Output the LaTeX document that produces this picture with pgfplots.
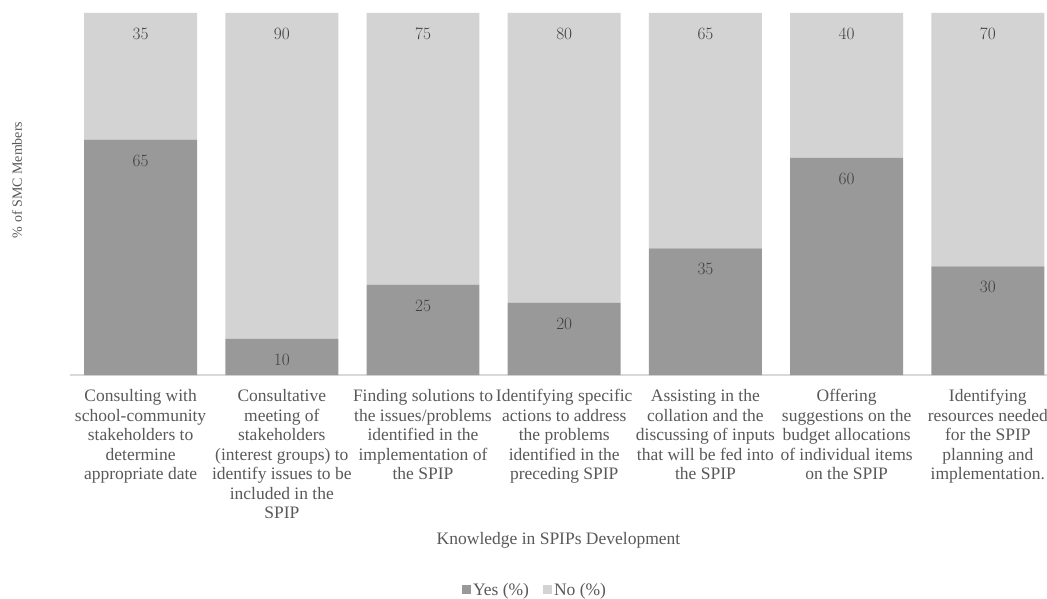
\documentclass[border=0pt]{standalone}
\usepackage{pgfplots}
\pgfplotsset{compat=1.18}
\usepackage{fontspec}
\setmainfont{Liberation Serif}
\definecolor{yesgray}{RGB}{153,153,153}
\definecolor{nogray}{RGB}{211,211,211}
\definecolor{txtgray}{RGB}{89,89,89}
\definecolor{lblgray}{RGB}{64,64,64}
\definecolor{axgray}{RGB}{217,217,217}
\begin{document}
\begin{tikzpicture}
\begin{axis}[
  at={(70pt,223pt)}, anchor=south west,
  scale only axis,
  width=977pt, height=362pt,
  ybar stacked,
  bar width=0.8,
  xmin=-0.5, xmax=6.419,
  ymin=0, ymax=100,
  axis lines*=left,
  x axis line style={draw=axgray, line width=1.5pt},
  y axis line style={draw=none},
  ytick=\empty,
  xtick={0,...,6},
  major tick length=0pt,
  xticklabels={
    {Consulting with\\school-community\\stakeholders to\\determine\\appropriate date},
    {Consultative\\meeting of\\stakeholders\\(interest groups) to\\identify issues to be\\included in the\\SPIP},
    {Finding solutions to\\the issues/problems\\identified in the\\implementation of\\the SPIP},
    {Identifying specific\\actions to address\\the problems\\identified in the\\preceding SPIP},
    {Assisting in the\\collation and the\\discussing of inputs\\that will be fed into\\the SPIP},
    {Offering\\suggestions on the\\budget allocations\\of individual items\\on the SPIP},
    {Identifying\\resources needed\\for the SPIP\\planning and\\implementation.}},
  xticklabel style={font=\fontsize{17.5}{19.5}\selectfont, text=txtgray,
    align=center, anchor=north, yshift=-11pt},
  xlabel={Knowledge in SPIPs Development},
  xlabel style={at={(axis description cs:0.5,-0.456)}, anchor=center,
    font=\fontsize{17.5}{20}\selectfont, text=txtgray},
  ylabel={\% of SMC Members},
  ylabel style={at={(axis description cs:-0.0542,0.539)}, anchor=center,
    font=\fontsize{14}{16}\selectfont, text=txtgray},
  point meta=explicit,
  visualization depends on={rawy \as \segh},
  nodes near coords,
  every node near coord/.append style={anchor=center,
    yshift={\segh*1.81pt-21pt},
    font=\fontsize{17}{19}\selectfont, text=lblgray},
  legend columns=2,
  legend style={at={(axis description cs:0.476,-0.594)}, anchor=center,
    draw=none, fill=none, font=\fontsize{17.5}{19}\selectfont, text=txtgray,
    /tikz/every even column/.append style={column sep=12pt}},
  legend image code/.code={\fill[#1] (0pt,-4pt) rectangle (9pt,5pt);},
]
\addplot[fill=yesgray, draw=none] coordinates {
  (0,65) [65] (1,10) [10] (2,25) [25] (3,20) [20] (4,35) [35] (5,60) [60] (6,30) [30]};
\addlegendentry{Yes (\%)}
\addplot[fill=nogray, draw=none] coordinates {
  (0,35) [35] (1,90) [90] (2,75) [75] (3,80) [80] (4,65) [65] (5,40) [40] (6,70) [70]};
\addlegendentry{No (\%)}
\end{axis}
\pgfresetboundingbox
\path (0,0) rectangle (1047pt,598pt);
\end{tikzpicture}
\end{document}
